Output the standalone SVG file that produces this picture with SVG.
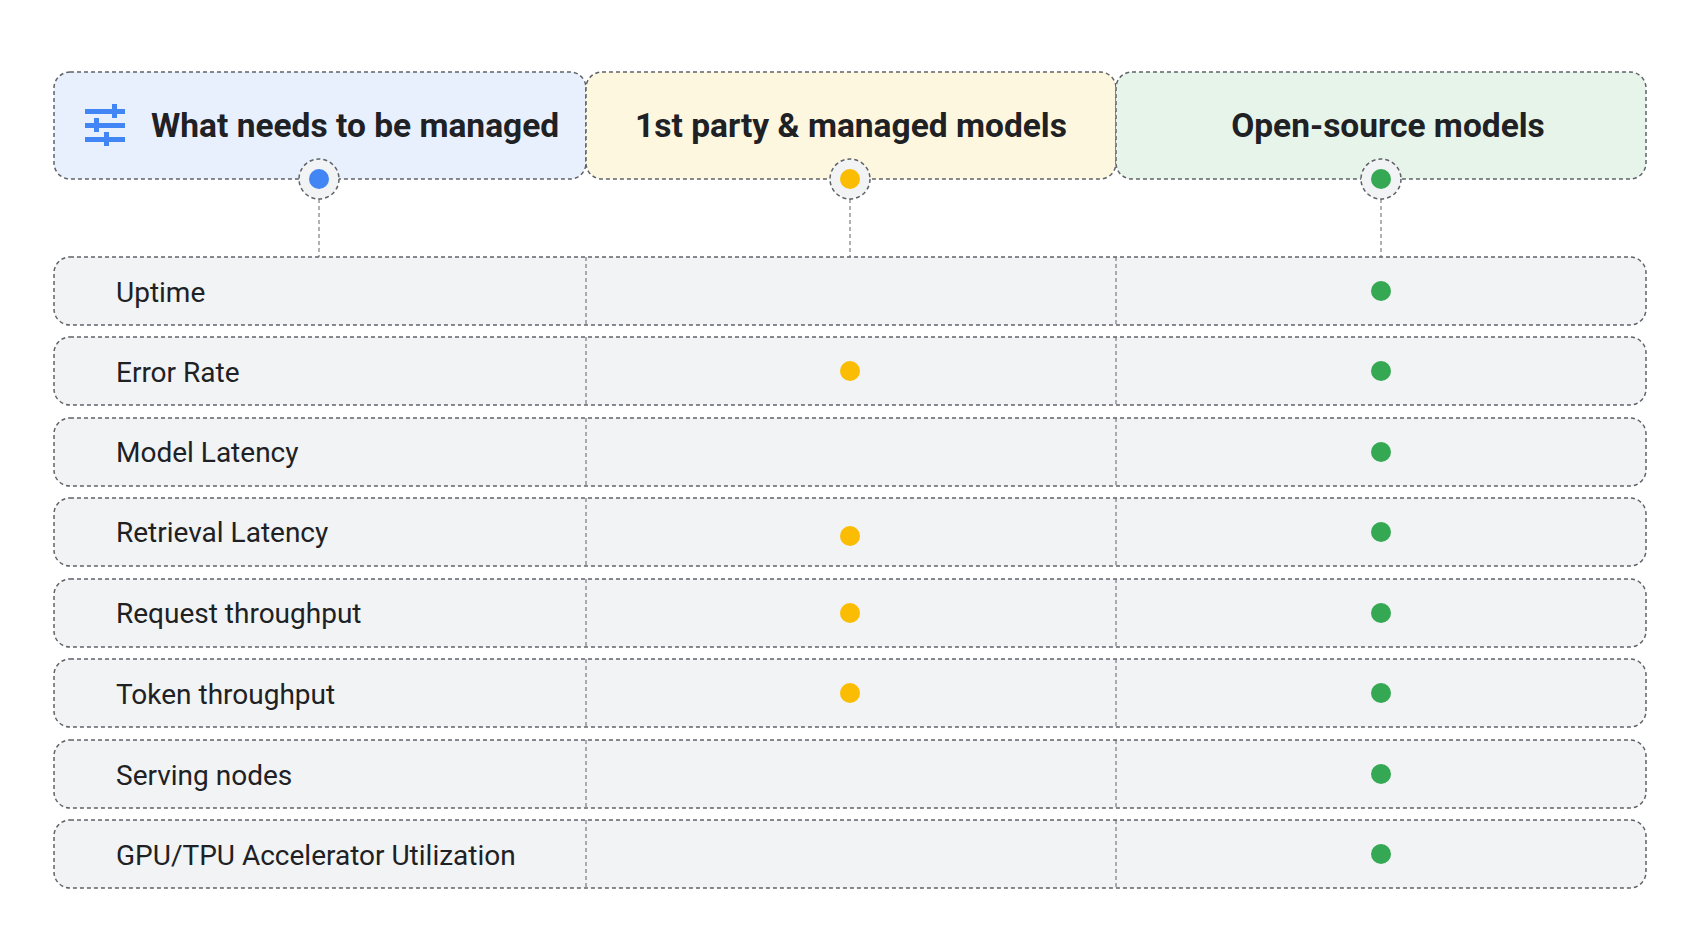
<svg xmlns="http://www.w3.org/2000/svg" width="1700" height="947" viewBox="0 0 1700 947">
<style>
.b{stroke:#5f6368;stroke-width:1.5;stroke-dasharray:4 3;}
.sep{stroke:#5f6368;stroke-width:1;stroke-dasharray:4 3;fill:none}
.row{fill:#f1f3f4}
.t{font-family:Roboto,"Liberation Sans",sans-serif;font-size:28px;fill:#202124;font-weight:400}
.h{font-family:Roboto,"Liberation Sans",sans-serif;font-size:33.5px;fill:#202124;font-weight:700}
.y{fill:#fbbc04}.g{fill:#34a853}
</style>
<rect width="1700" height="947" fill="#fff"/>
<g id="header-managed">
<rect class="b" x="54" y="72" width="532" height="107" rx="16" fill="#e8f0fe"/>
<g fill="#4285f4">
<rect x="85" y="109" width="40" height="5"/><rect x="112" y="104" width="5" height="14"/>
<rect x="85" y="123" width="40" height="5"/><rect x="94" y="118" width="5" height="14"/>
<rect x="85" y="137" width="40" height="5"/><rect x="104" y="132" width="5" height="14"/>
</g>
<text class="h" x="151" y="137">What needs to be managed</text>
</g>
<g id="header-1st">
<rect class="b" x="586" y="72" width="530" height="107" rx="16" fill="#fef7e0"/>
<text class="h" x="851" y="137" text-anchor="middle">1st party &amp; managed models</text>
</g>
<g id="header-open">
<rect class="b" x="1116" y="72" width="530" height="107" rx="16" fill="#e6f4ea"/>
<text class="h" x="1388" y="137" text-anchor="middle">Open-source models</text>
</g>
<g id="connectors">
<line class="sep" x1="319" y1="199" x2="319" y2="257"/>
<line class="sep" x1="850" y1="199" x2="850" y2="257"/>
<line class="sep" x1="1381" y1="199" x2="1381" y2="257"/>
</g>
<g id="header-dots">
<circle class="b" cx="319" cy="179" r="20" fill="#f1f3f4"/><circle cx="319" cy="179" r="10" fill="#4285f4"/>
<circle class="b" cx="850" cy="179" r="20" fill="#f1f3f4"/><circle cx="850" cy="179" r="10" class="y"/>
<circle class="b" cx="1381" cy="179" r="20" fill="#f1f3f4"/><circle cx="1381" cy="179" r="10" class="g"/>
</g>
<g id="rows">
<g id="r1"><rect class="row b" x="54" y="257" width="1592" height="68" rx="16"/><line class="sep" x1="586" y1="257" x2="586" y2="325"/><line class="sep" x1="1116" y1="257" x2="1116" y2="325"/><text class="t" x="116" y="302">Uptime</text><circle cx="1381" cy="291" r="10" class="g"/></g>
<g id="r2"><rect class="row b" x="54" y="337" width="1592" height="68" rx="16"/><line class="sep" x1="586" y1="337" x2="586" y2="405"/><line class="sep" x1="1116" y1="337" x2="1116" y2="405"/><text class="t" x="116" y="382">Error Rate</text><circle cx="850" cy="371" r="10" class="y"/><circle cx="1381" cy="371" r="10" class="g"/></g>
<g id="r3"><rect class="row b" x="54" y="418" width="1592" height="68" rx="16"/><line class="sep" x1="586" y1="418" x2="586" y2="486"/><line class="sep" x1="1116" y1="418" x2="1116" y2="486"/><text class="t" x="116" y="462">Model Latency</text><circle cx="1381" cy="452" r="10" class="g"/></g>
<g id="r4"><rect class="row b" x="54" y="498" width="1592" height="68" rx="16"/><line class="sep" x1="586" y1="498" x2="586" y2="566"/><line class="sep" x1="1116" y1="498" x2="1116" y2="566"/><text class="t" x="116" y="542">Retrieval Latency</text><circle cx="850" cy="536" r="10" class="y"/><circle cx="1381" cy="532" r="10" class="g"/></g>
<g id="r5"><rect class="row b" x="54" y="579" width="1592" height="68" rx="16"/><line class="sep" x1="586" y1="579" x2="586" y2="647"/><line class="sep" x1="1116" y1="579" x2="1116" y2="647"/><text class="t" x="116" y="623">Request throughput</text><circle cx="850" cy="613" r="10" class="y"/><circle cx="1381" cy="613" r="10" class="g"/></g>
<g id="r6"><rect class="row b" x="54" y="659" width="1592" height="68" rx="16"/><line class="sep" x1="586" y1="659" x2="586" y2="727"/><line class="sep" x1="1116" y1="659" x2="1116" y2="727"/><text class="t" x="116" y="704">Token throughput</text><circle cx="850" cy="693" r="10" class="y"/><circle cx="1381" cy="693" r="10" class="g"/></g>
<g id="r7"><rect class="row b" x="54" y="740" width="1592" height="68" rx="16"/><line class="sep" x1="586" y1="740" x2="586" y2="808"/><line class="sep" x1="1116" y1="740" x2="1116" y2="808"/><text class="t" x="116" y="785">Serving nodes</text><circle cx="1381" cy="774" r="10" class="g"/></g>
<g id="r8"><rect class="row b" x="54" y="820" width="1592" height="68" rx="16"/><line class="sep" x1="586" y1="820" x2="586" y2="888"/><line class="sep" x1="1116" y1="820" x2="1116" y2="888"/><text class="t" x="116" y="865">GPU/TPU Accelerator Utilization</text><circle cx="1381" cy="854" r="10" class="g"/></g>
</g>
</svg>
